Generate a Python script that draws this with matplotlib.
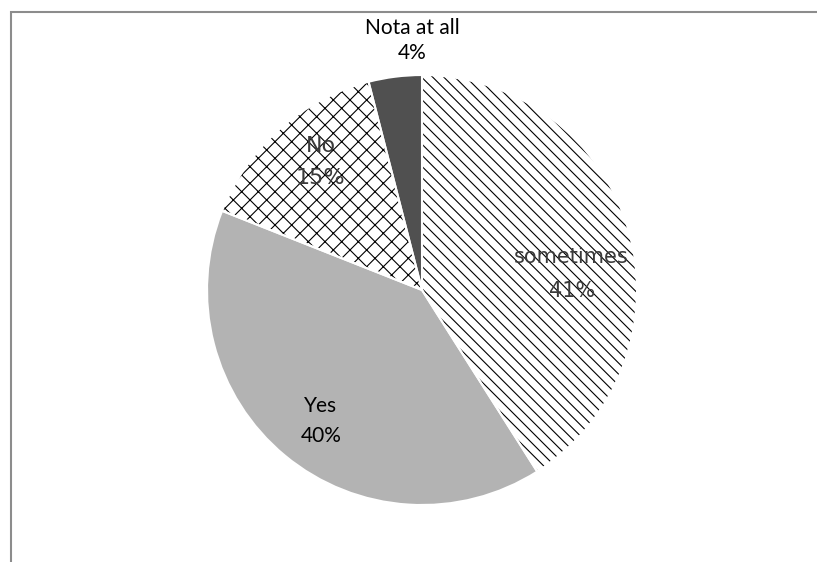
import matplotlib.pyplot as plt
import numpy as np

labels = ['sometimes', 'Yes', 'No', 'Nota at all']
values = [41, 40, 15, 4]
colors = ['white', '#b3b3b3', 'white', '#505050']
hatches = ['\\\\\\', '', 'xx', '']

plt.rcParams['hatch.linewidth'] = 0.8

fig = plt.figure(figsize=(8.17, 5.62), dpi=100)
ax = fig.add_axes([0.2534, 0.1014, 0.5263, 0.7651])

wedges, _ = ax.pie(values, colors=colors, startangle=90, counterclock=False,
                   wedgeprops=dict(edgecolor='black', linewidth=0))
for w, h in zip(wedges, hatches):
    w.set_hatch(h)
# white separators on top
ax.pie(values, colors=colors, startangle=90, counterclock=False,
       wedgeprops=dict(fill=False, edgecolor='white', linewidth=1.5))

ax.set_xlim(-1, 1)
ax.set_ylim(-1, 1)
ax.set_aspect('equal')
ax.axis('off')

# label placement: radius, angle tweak, line spacing per slice
lab_r = [0.70, 0.77, 0.76, 1.16]
lab_da = [-10, 2, -3, -5]
lab_ls = [1.9, 1.6, 1.7, 1.3]
fonts = [dict(family='DejaVu Sans', color='#3a3a3a', size=15),
         dict(family='Lato', color='black', size=15),
         dict(family='DejaVu Sans', color='#3a3a3a', size=16),
         dict(family='Lato', color='black', size=15)]

for w, lab, v, r, da, ls, f in zip(wedges, labels, values, lab_r, lab_da, lab_ls, fonts):
    ang = np.deg2rad((w.theta1 + w.theta2) / 2 + da)
    ax.text(r * np.cos(ang), r * np.sin(ang), '%s\n%d%%' % (lab, v),
            ha='center', va='center', linespacing=ls, clip_on=False,
            zorder=5, **f)

# chart area border (partly visible)
fig.add_artist(plt.Rectangle((11 / 817, -0.1), 1.2, 1.1 - 12 / 562,
                             transform=fig.transFigure, fill=False,
                             edgecolor='#8c8c8c', linewidth=1.5))

fig.savefig('out.png', dpi=100)
